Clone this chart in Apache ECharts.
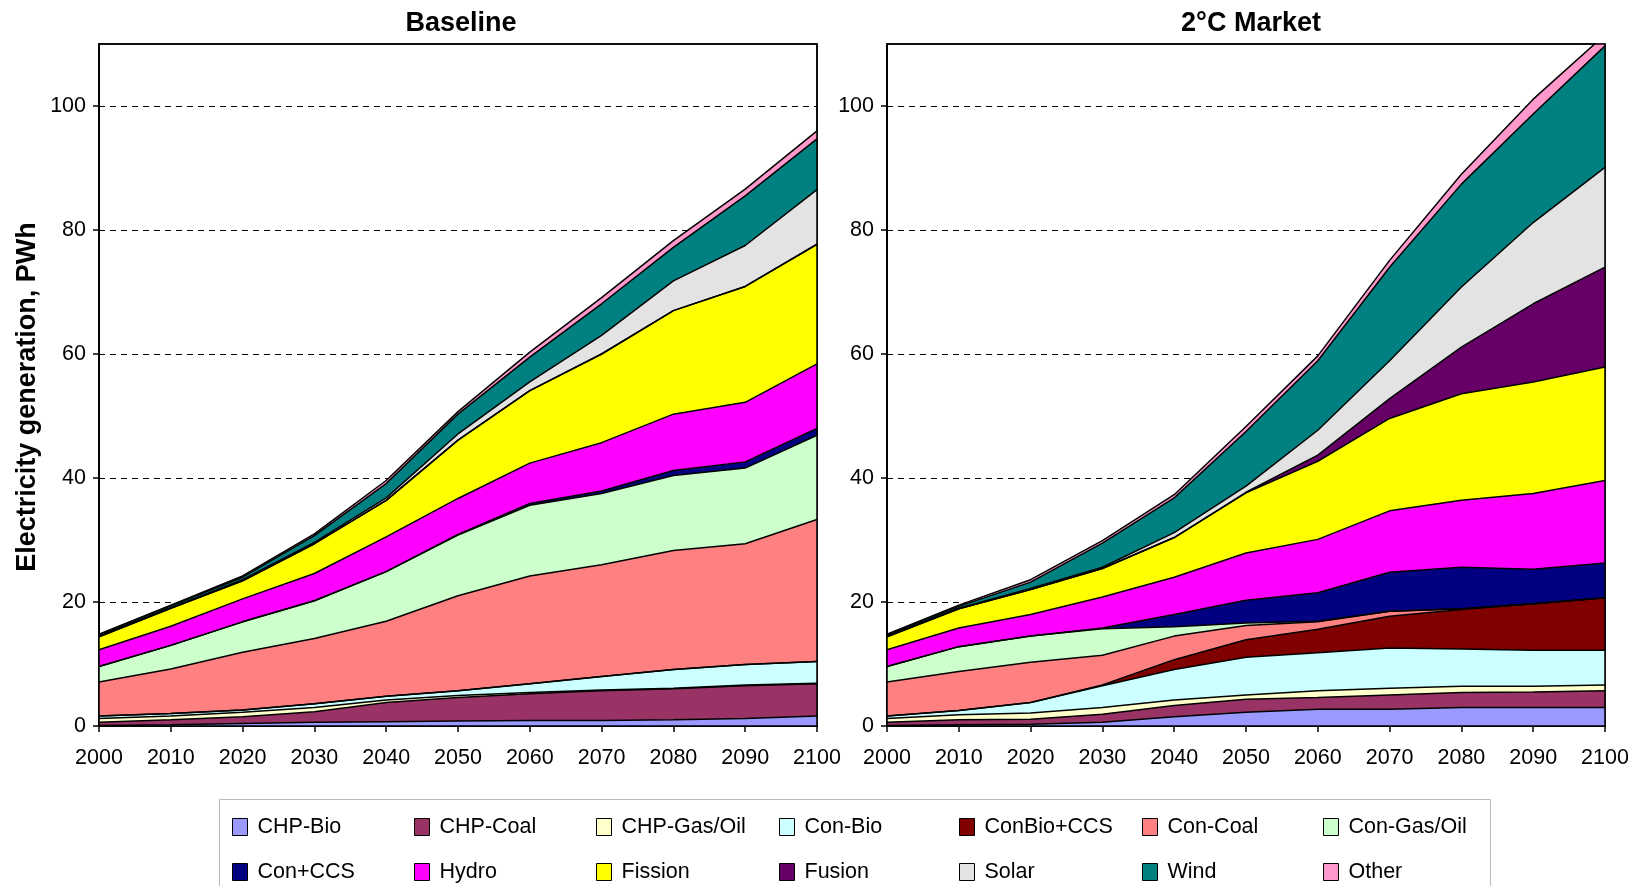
<!DOCTYPE html>
<html>
<head>
<meta charset="utf-8">
<script src="https://cdn.jsdelivr.net/npm/echarts@6/dist/echarts.min.js"></script>
<style>
html,body{margin:0;padding:0;background:#fff;}
#chart{width:1637px;height:886px;}
</style>
</head>
<body>
<div id="chart"></div>
<script>
// ---- Data (PWh) ----
const years = ['2000','2010','2020','2030','2040','2050','2060','2070','2080','2090','2100'];
const seriesNames = ['CHP-Bio','CHP-Coal','CHP-Gas/Oil','Con-Bio','ConBio+CCS','Con-Coal','Con-Gas/Oil','Con+CCS','Hydro','Fission','Fusion','Solar','Wind','Other'];
const seriesColors = ['#9999FF','#993366','#FFFFCC','#CCFFFF','#800000','#FF8080','#CCFFCC','#000080','#FF00FF','#FFFF00','#660066','#E3E3E3','#008080','#FF99CC'];

// Baseline
const baseChpBio    = [0.1,0.2,0.4,0.6,0.7,0.8,0.9,0.9,1.0,1.2,1.6];
const baseChpCoal   = [0.5,0.8,1.1,1.7,3.1,3.8,4.3,4.8,5.0,5.3,5.2];
const baseChpGasOil = [0.6,0.6,0.7,0.7,0.4,0.3,0.2,0.1,0.1,0.1,0.1];
const baseConBio    = [0.4,0.4,0.4,0.6,0.6,0.8,1.4,2.2,3.0,3.3,3.5];
const baseConBioCCS = [0,0,0,0,0,0,0,0,0,0,0];
const baseConCoal   = [5.5,7.2,9.3,10.5,12.1,15.3,17.4,18.0,19.2,19.5,22.9];
const baseConGasOil = [2.5,3.8,4.9,6.1,8.0,9.8,11.4,11.5,12.1,12.2,13.6];
const baseConCCS    = [0,0,0,0,0,0.1,0.3,0.4,0.8,1.0,1.1];
const baseHydro     = [2.7,3.1,3.7,4.4,5.6,5.8,6.5,7.8,9.1,9.6,10.4];
const baseFission   = [2.1,2.9,2.9,4.8,5.9,9.4,11.7,14.3,16.7,18.7,19.3];
const baseFusion    = [0,0,0,0,0,0,0,0,0,0,0];
const baseSolar     = [0.1,0.1,0.2,0.2,0.4,1.0,1.4,3.0,4.8,6.6,8.8];
const baseWind      = [0.2,0.3,0.4,1.1,2.3,3.2,4.0,5.1,5.4,8.0,8.2];
const baseOther     = [0.1,0.1,0.2,0.3,0.5,0.4,0.8,1.0,1.1,1.1,1.3];

// 2°C Market
const mktChpBio     = [0.1,0.2,0.3,0.6,1.5,2.2,2.7,2.7,3.0,3.0,3.0];
const mktChpCoal    = [0.5,0.8,0.8,1.3,1.8,2.1,1.9,2.3,2.4,2.5,2.7];
const mktChpGasOil  = [0.6,0.8,1.0,1.1,0.9,0.7,1.1,1.1,1.0,0.9,0.9];
const mktConBio     = [0.4,0.7,1.7,3.5,4.9,6.1,6.1,6.5,6.0,5.8,5.6];
const mktConBioCCS  = [0,0,0,0.1,1.6,2.8,3.8,5.1,6.4,7.5,8.5];
const mktConCoal    = [5.5,6.3,6.5,4.8,3.8,2.3,1.2,0.8,0.1,0,0];
const mktConGasOil  = [2.5,4.0,4.2,4.3,1.5,0.4,0.1,0,0,0,0];
const mktConCCS     = [0,0,0,0.1,2.0,3.7,4.6,6.3,6.7,5.6,5.6];
const mktHydro      = [2.7,3.0,3.5,5.0,6.0,7.6,8.6,9.9,10.8,12.2,13.3];
const mktFission    = [2.1,3.1,4.0,4.6,6.4,9.7,12.6,14.9,17.2,18.0,18.3];
const mktFusion     = [0,0,0,0,0,0.1,1.0,3.2,7.5,12.6,16.1];
const mktSolar      = [0.1,0.1,0.2,0.2,0.8,1.0,4.0,6.1,9.7,13.1,16.1];
const mktWind       = [0.2,0.3,1.0,3.9,5.6,8.8,11.2,15.1,16.6,17.5,19.6];
const mktOther      = [0.1,0.2,0.4,0.4,0.5,0.8,0.8,1.1,1.6,2.4,1.8];

const yTicks = [0,20,40,60,80,100];
const panelTitles = ['Baseline','2°C Market'];
const yAxisTitle = 'Electricity generation, PWh';

const baseData = [baseChpBio,baseChpCoal,baseChpGasOil,baseConBio,baseConBioCCS,baseConCoal,baseConGasOil,baseConCCS,baseHydro,baseFission,baseFusion,baseSolar,baseWind,baseOther];
const mktData  = [mktChpBio,mktChpCoal,mktChpGasOil,mktConBio,mktConBioCCS,mktConCoal,mktConGasOil,mktConCCS,mktHydro,mktFission,mktFusion,mktSolar,mktWind,mktOther];

// ---- Chart ----
const FONT = '"Liberation Sans", Arial, sans-serif';
const chart = echarts.init(document.getElementById('chart'), null, {renderer:'canvas'});

function makeSeries(dataSet, idx){
  return dataSet.map((d,i)=>({
    name: seriesNames[i],
    type: 'line',
    stack: 'stack' + idx,
    xAxisIndex: idx, yAxisIndex: idx,
    data: d,
    symbol: 'none',
    clip: true,
    lineStyle: {color:'#000', width:1.5},
    itemStyle: {color: seriesColors[i]},
    areaStyle: {color: seriesColors[i], opacity: 1},
    emphasis: {disabled: true},
    silent: true
  }));
}

function xAxis(idx){
  return {
    type:'category', gridIndex: idx, data: years, boundaryGap:false,
    axisLine:{show:true, lineStyle:{color:'#000', width:1.5}},
    axisTick:{show:true, interval:0, length:6, lineStyle:{color:'#000', width:1.5}},
    axisLabel:{interval:0, color:'#000', fontFamily:FONT, fontSize:21.5, margin:21},
    splitLine:{show:false}
  };
}
function yAxis(idx){
  return {
    type:'value', gridIndex: idx, min:0, max:110, interval:20,
    axisLine:{show:true, lineStyle:{color:'#000', width:1.5}},
    axisTick:{show:true, length:6, customValues: yTicks, lineStyle:{color:'#000', width:1.5}},
    axisLabel:{color:'#000', fontFamily:FONT, fontSize:21.5, margin:13, customValues: yTicks,
      formatter: v => (yTicks.indexOf(v) >= 0 ? String(v) : '')},
    splitLine:{show:true, lineStyle:{color:'#000', type:[6,5], width:1}}
  };
}

// Legend: one small legend per item, placed on a 7 x 2 layout
const legendCols = [232,414,596,779,959,1142,1323];
const legendRows = [816,861];
const legends = seriesNames.map((n,i)=>({
  data:[{name:n, icon:'rect', itemStyle:{color:seriesColors[i], borderColor:'#000', borderWidth:1}}],
  left: legendCols[i % 7], top: legendRows[Math.floor(i/7)],
  orient:'horizontal', itemWidth:15, itemHeight:17, padding:0,
  selectedMode:false,
  textStyle:{color:'#000', fontFamily:FONT, fontSize:21.5, padding:[0,0,0,5]}
}));

const option = {
  animation:false,
  backgroundColor:'#fff',
  title: [
    {text: panelTitles[0], left: 456, top: 5, textAlign:'center',
     textStyle:{fontFamily:FONT, fontSize:27, fontWeight:'bold', color:'#000'}},
    {text: panelTitles[1], left: 1246, top: 5, textAlign:'center',
     textStyle:{fontFamily:FONT, fontSize:27, fontWeight:'bold', color:'#000'}}
  ],
  grid: [
    {left:99, top:44, width:718, bottom:160, show:true, borderColor:'#000', borderWidth:1.5, backgroundColor:'transparent', containLabel:false},
    {left:887, top:44, width:718, bottom:160, show:true, borderColor:'#000', borderWidth:1.5, backgroundColor:'transparent', containLabel:false}
  ],
  xAxis: [xAxis(0), xAxis(1)],
  yAxis: [yAxis(0), yAxis(1)],
  legend: legends,
  graphic: [
    {type:'rect', shape:{x:219.5, y:799.5, width:1271, height:100}, style:{fill:'none', stroke:'#BBBBBB', lineWidth:1}, silent:true, z:-1},
    {type:'rect', shape:{x:99, y:44, width:718, height:682}, style:{fill:'none', stroke:'#000', lineWidth:1.5}, silent:true, z:100},
    {type:'rect', shape:{x:887, y:44, width:718, height:682}, style:{fill:'none', stroke:'#000', lineWidth:1.5}, silent:true, z:100},
    {type:'text', x:28, y:397, rotation:Math.PI/2, silent:true, z:100,
     style:{text:yAxisTitle, x:0, y:0, textAlign:'center', textVerticalAlign:'middle',
            fontFamily:FONT, fontSize:27, fontWeight:'bold', fill:'#000'}}
  ],
  series: makeSeries(baseData,0).concat(makeSeries(mktData,1))
};
chart.setOption(option);
</script>
</body>
</html>
